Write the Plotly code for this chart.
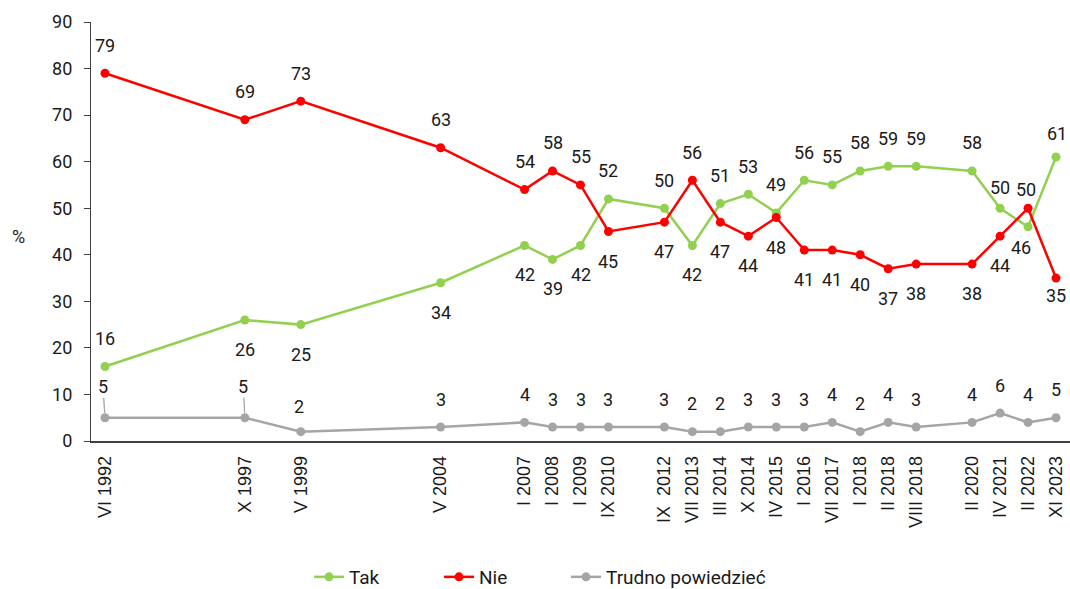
import plotly.graph_objects as go

# ---------------- data ----------------
categories = ["VI 1992", "X 1997", "V 1999", "V 2004", "I 2007", "I 2008", "I 2009",
              "IX 2010", "IX  2012", "VII 2013", "III 2014", "X 2014", "IV 2015", "I 2016",
              "VII 2017", "I 2018", "II 2018", "VIII 2018", "II 2020", "IV 2021",
              "II 2022", "XI 2023"]
tak = [16, 26, 25, 34, 42, 39, 42, 52, 50, 42, 51, 53, 49, 56, 55, 58, 59, 59, 58, 50, 46, 61]
nie = [79, 69, 73, 63, 54, 58, 55, 45, 47, 56, 47, 44, 48, 41, 41, 40, 37, 38, 38, 44, 50, 35]
trudno = [5, 5, 2, 3, 4, 3, 3, 3, 3, 2, 2, 3, 3, 3, 4, 2, 4, 3, 4, 6, 4, 5]
y_ticks = [0, 10, 20, 30, 40, 50, 60, 70, 80, 90]
series_names = ["Tak", "Nie", "Trudno powiedzieć"]

# empty category slots in the source axis (after the given category)
blank_slots_after = {"VI 1992": 4, "X 1997": 1, "V 1999": 4, "V 2004": 2,
                     "IX 2010": 1, "VIII 2018": 1}

# ---------------- style ----------------
GREEN = "#92D050"
RED = "#FF0000"
GRAY = "#A5A5A5"
TXT = "#1a1a1a"
AX = "#404040"

# label placement: 'a' above, 'b' below
tak_pos = list("abbbbbbaab" + "aaaaaaaaaa" + "ba")
nie_pos = list("aaaaaaabbabbbbbbbbbbab")
trudno_pos = ["a"] * len(trudno)
# manual nudges (dx, dy) in px, dy positive downward, overriding defaults
overrides = {
    ("tak", "IV 2021"): (0, -21),
    ("tak", "II 2022"): (-7, 21),
    ("tak", "XI 2023"): (1, -24),
    ("nie", "II 2022"): (-2, -19),
    ("nie", "XI 2023"): (0, 17),
    ("trudno", "VI 1992"): (-2, -31),
    ("trudno", "X 1997"): (-1.5, -31),
    ("trudno", "V 1999"): (-2, -25),
}
leaders = {("trudno", "VI 1992"), ("trudno", "X 1997")}
# legend entry left edges (container fraction)
legend_x = [309 / 1070, 439 / 1070, 566 / 1070]

# axis slots
axis_slots = []
for c in categories:
    axis_slots.append(c)
    for k in range(blank_slots_after.get(c, 0)):
        axis_slots.append(f"__gap_{len(axis_slots)}")
xpos = [axis_slots.index(c) for c in categories]

fig = go.Figure()
legend_ids = ["legend", "legend2", "legend3"]
for name, vals, col, lid in zip(series_names, [tak, nie, trudno], [GREEN, RED, GRAY], legend_ids):
    fig.add_trace(go.Scatter(
        x=xpos, y=vals, name=name, mode="lines+markers",
        line=dict(color=col, width=2.5),
        marker=dict(color=col, size=9),
        hoverinfo="skip", legend=lid,
    ))

annotations = []
for key, vals, pos in [("tak", tak, tak_pos), ("nie", nie, nie_pos), ("trudno", trudno, trudno_pos)]:
    for c, x, v, p in zip(categories, xpos, vals, pos):
        dx, dy = overrides.get((key, c), (0, -28 if p == "a" else 29.5))
        if (key, c) in leaders:
            annotations.append(dict(
                x=x, y=v, xref="x", yref="y", text=str(v), showarrow=True,
                ax=dx, ay=dy, axref="pixel", ayref="pixel",
                arrowhead=0, arrowwidth=1.3, arrowcolor=GRAY, standoff=5,
                font=dict(family="Roboto", size=18, color=TXT),
                borderpad=0,
            ))
        else:
            annotations.append(dict(
                x=x, y=v, xref="x", yref="y", text=str(v), showarrow=False,
                xshift=dx, yshift=-dy,
                font=dict(family="Roboto", size=18, color=TXT),
            ))

annotations.append(dict(
    text="%", xref="paper", yref="paper", x=0, y=0.487, xshift=-73,
    showarrow=False, xanchor="center", yanchor="middle",
    font=dict(family="Roboto", size=18, color=TXT),
))

legend_common = dict(
    orientation="h", xref="container", yref="container",
    y=12 / 589, xanchor="left", yanchor="middle",
    font=dict(family="Roboto", size=19, color=TXT),
    bgcolor="rgba(0,0,0,0)",
)

fig.update_layout(
    width=1070, height=589,
    margin=dict(l=91, r=0, t=22, b=148),
    paper_bgcolor="white", plot_bgcolor="white",
    font=dict(family="Roboto", size=18, color=TXT),
    showlegend=True,
    legend=dict(x=legend_x[0], **legend_common),
    legend2=dict(x=legend_x[1], **legend_common),
    legend3=dict(x=legend_x[2], **legend_common),
    annotations=annotations,
    xaxis=dict(
        range=[-0.5, len(axis_slots) - 0.5],
        tickmode="array", tickvals=xpos, ticktext=categories,
        tickangle=-90, ticks="", showgrid=False, zeroline=False,
        showline=True, linecolor=AX, linewidth=1.5,
        tickfont=dict(family="Liberation Sans", size=18, color=TXT),
        ticklabelstandoff=6,
    ),
    yaxis=dict(
        range=[0, 90], tickmode="array", tickvals=y_ticks,
        ticks="outside", ticklen=6, tickcolor=AX, tickwidth=1.3,
        showgrid=False, zeroline=False,
        showline=True, linecolor=AX, linewidth=1.3,
        tickfont=dict(family="Roboto", size=18, color=TXT),
        ticklabelstandoff=8,
    ),
)

fig.write_html("out.html", config={"displayModeBar": False},
               post_script="document.body.style.margin='0';document.body.style.padding='0';")
